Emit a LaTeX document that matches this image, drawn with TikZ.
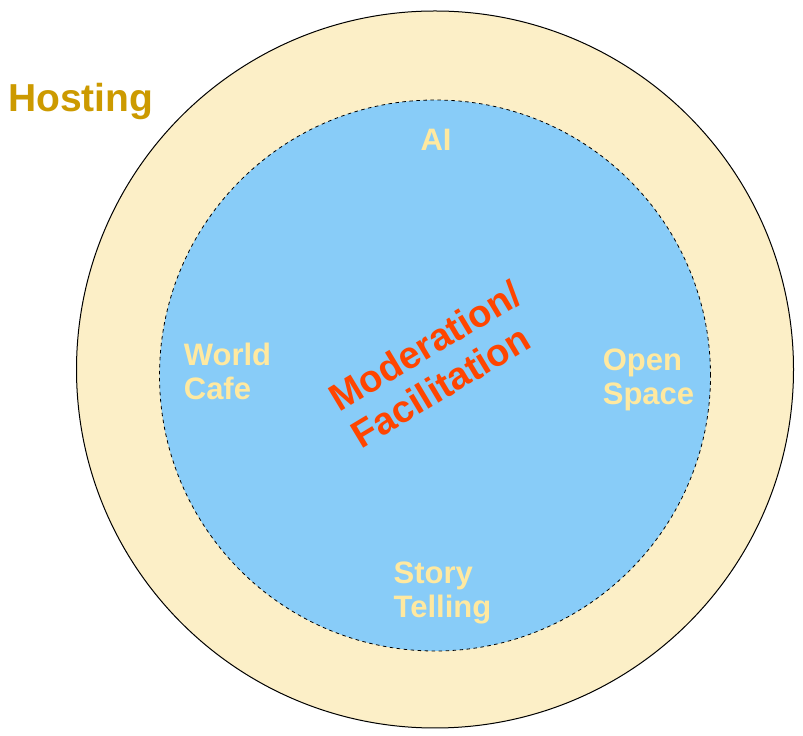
\documentclass[tikz,border=0pt]{standalone}
\usepackage{fontspec}
\setmainfont{Liberation Sans}
\definecolor{outerfill}{HTML}{FCEFC7}
\definecolor{innerfill}{HTML}{88CCF8}
\definecolor{labelyellow}{HTML}{FFE9A0}
\definecolor{hostgold}{HTML}{CC9A00}
\definecolor{modred}{HTML}{FF4500}
\tikzset{
  method/.style={text=labelyellow, font=\fontsize{31}{34}\selectfont\bfseries, align=left, inner sep=0pt},
}
\begin{document}
\begin{tikzpicture}[x=1pt,y=1pt]
\useasboundingbox (0,0) rectangle (803,736);
\node[circle, draw=black, line width=1pt, fill=outerfill, minimum size=717pt, inner sep=0pt] (outer) at (435,736-369.5) {};
\node[circle, draw=black, line width=0.8pt, dash pattern=on 3.5pt off 3.5pt, fill=innerfill, minimum size=551pt, inner sep=0pt] (inner) at (435,736-375.5) {};
\node[text=hostgold, font=\fontsize{39}{44}\selectfont\bfseries, inner sep=0pt, anchor=base west] (hosting) at (8,736-112) {Hosting};
\node[method, anchor=center] (ai) at (436,736-140) {AI};
\node[method] (world) at (227.5,736-371.5) {World\\Cafe};
\node[method] (open) at (648.5,736-380) {Open\\Space};
\node[method] (story) at (442.5,736-593) {Story\\Telling};
\node[text=modred, font=\fontsize{38}{43}\selectfont\bfseries, align=left, inner sep=0pt, rotate=31] (mod) at (436,736-364) {Moderation/\\Facilitation};
\end{tikzpicture}
\end{document}
